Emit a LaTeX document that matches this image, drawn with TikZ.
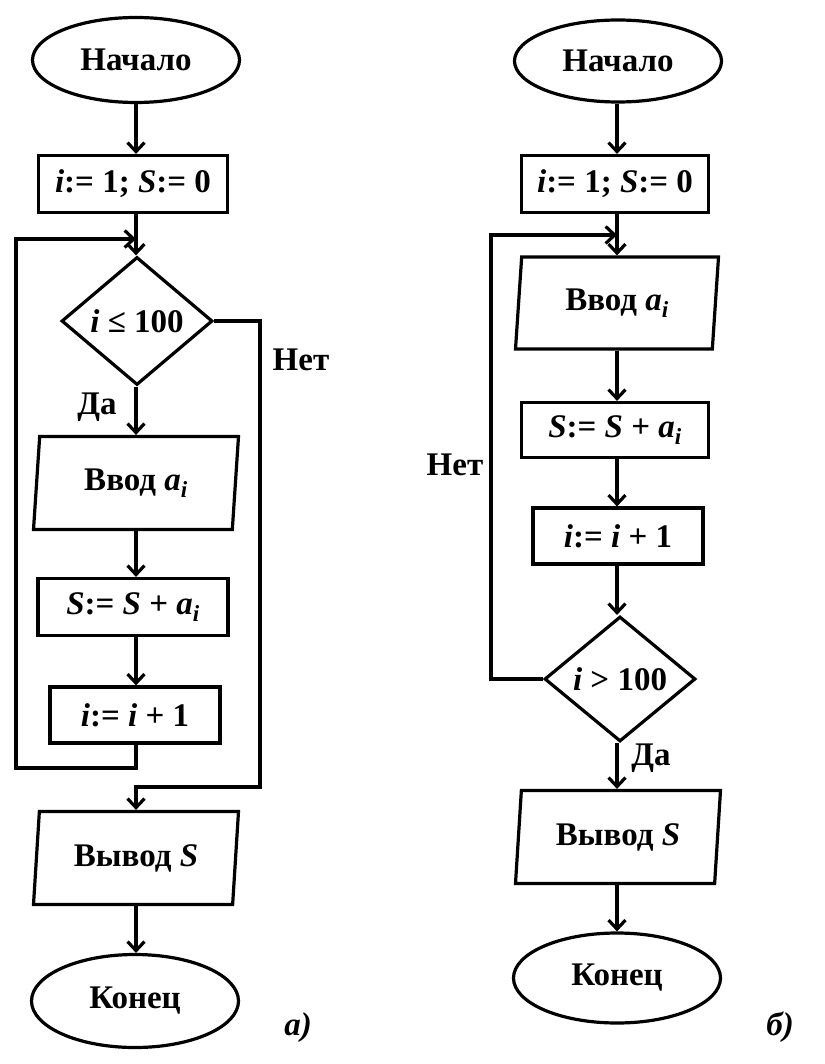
\documentclass[tikz,border=0pt]{standalone}
\usepackage{fontspec}
\setmainfont{Liberation Serif}
\usetikzlibrary{shapes.geometric, arrows.meta}

\begin{document}
\begin{tikzpicture}[x=1pt,y=-1pt,line width=3.2pt,
  every node/.style={font=\fontsize{33}{38}\selectfont\bfseries},
  term/.style={draw,ellipse,minimum width=207pt,inner sep=0pt},
  proc/.style={draw,rectangle,minimum height=57pt,inner sep=0pt},
  io/.style={draw,trapezium,trapezium left angle=78,trapezium right angle=102,
    trapezium stretches body,minimum width=205pt,minimum height=93pt,inner sep=0pt},
  cond/.style={draw,diamond,minimum width=151pt,inner sep=0pt},
  arr/.style={-{Straight Barb[length=9pt,width=17pt]}}]
\useasboundingbox (0,0) rectangle (824,1064);
% left chart: loop with the check first
\coordinate (colA) at (136,0);
\coordinate (joinA) at (136,239);
\node[term,minimum height=85pt] (startA) at (136,60) {Начало};
\node[proc,minimum width=189pt] (initA) at (133,184) {\textit{i}:= 1; \textit{S}:= 0};
\node[cond,minimum height=128pt] (condA) at (137,321) {\textit{i} ≤ 100};
\node[io] (inA) at (136,483) {Ввод \textit{a}\textsubscript{\textit{i}}};
\node[proc,minimum width=190pt] (sumA) at (133,607) {\textit{S}:= \textit{S} + \textit{a}\textsubscript{\textit{i}}};
\node[proc,minimum width=170pt,minimum height=56pt] (incA) at (135,715) {\textit{i}:= \textit{i} + 1};
\node[io] (outA) at (136,858) {Вывод \textit{S}};
\node[term,minimum height=93pt] (endA) at (135,1001) {Конец};
\node (noA) at (301,360) {Нет};
\node (yesA) at (97,407) {Да};
\node (capA) at (298,1028) {\textit{а)}};
\draw[arr] (colA |- startA.south) -- (colA |- initA.north);
\draw[arr] (colA |- initA.south) -- (colA |- condA.north);
\draw[arr] (colA |- condA.south) -- (colA |- inA.north);
\draw[arr] (colA |- inA.south) -- (colA |- sumA.north);
\draw[arr] (colA |- sumA.south) -- (colA |- incA.north);
\draw[arr] (colA |- incA.south) |- (16,768) |- (joinA);
\draw[arr] (condA.east) -| (260,787) -| (colA |- outA.north);
\draw[arr] (colA |- outA.south) -- (colA |- endA.north);
% right chart: loop with the check last
\coordinate (colB) at (617,0);
\coordinate (joinB) at (617,235);
\node[term,minimum height=82pt] (startB) at (618,61) {Начало};
\node[proc,minimum width=187pt] (initB) at (615,184) {\textit{i}:= 1; \textit{S}:= 0};
\node[io,minimum width=203pt,minimum height=92pt] (inB) at (617,303) {Ввод \textit{a}\textsubscript{\textit{i}}};
\node[proc,minimum width=187pt,minimum height=55pt] (sumB) at (615,430) {\textit{S}:= \textit{S} + \textit{a}\textsubscript{\textit{i}}};
\node[proc,minimum width=170pt,minimum height=56pt] (incB) at (618,536) {\textit{i}:= \textit{i} + 1};
\node[cond,minimum height=125pt] (condB) at (620,679) {\textit{i} > 100};
\node[io] (outB) at (618,837) {Вывод \textit{S}};
\node[term,minimum height=90pt] (endB) at (617,978) {Конец};
\node (noB) at (455,465) {Нет};
\node (yesB) at (651,758) {Да};
\node (capB) at (780,1027) {\textit{б)}};
\draw[arr] (colB |- startB.south) -- (colB |- initB.north);
\draw[arr] (colB |- initB.south) -- (colB |- inB.north);
\draw[arr] (colB |- inB.south) -- (colB |- sumB.north);
\draw[arr] (colB |- sumB.south) -- (colB |- incB.north);
\draw[arr] (colB |- incB.south) -- (colB |- condB.north);
\draw[arr] (condB.west) -| (491,235) -- (joinB);
\draw[arr] (colB |- condB.south) -- (colB |- outB.north);
\draw[arr] (colB |- outB.south) -- (colB |- endB.north);
\end{tikzpicture}
\end{document}
